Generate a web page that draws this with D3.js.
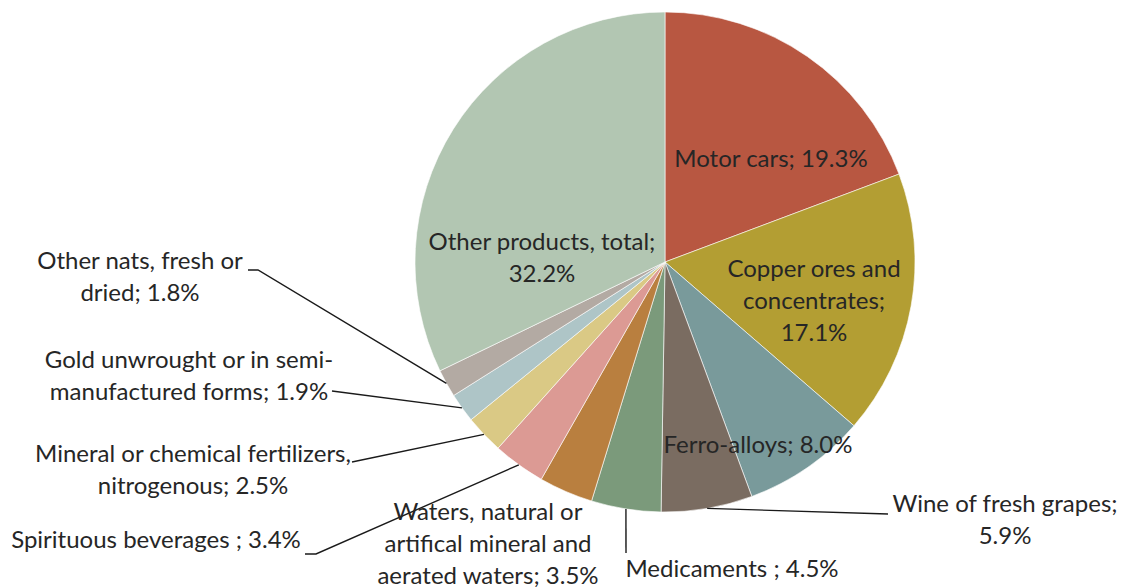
<!DOCTYPE html>
<html>
<head>
<meta charset="utf-8">
<script src="https://cdn.jsdelivr.net/npm/d3@7"></script>
<style>
  body { margin: 0; background: #fff; }
  text { font-family: Lato, "Open Sans", sans-serif; fill: #262626; }
</style>
</head>
<body>
<div id="chart"></div>
<script>
// data, clockwise from 12 o'clock
var products = ["Motor cars", "Copper ores and concentrates", "Ferro-alloys", "Wine of fresh grapes",
  "Medicaments", "Waters, natural or artifical mineral and aerated waters", "Spirituous beverages",
  "Mineral or chemical fertilizers, nitrogenous", "Gold unwrought or in semi-manufactured forms",
  "Other nats, fresh or dried", "Other products, total"];
var shares = [19.3, 17.1, 8.0, 5.9, 4.5, 3.5, 3.4, 2.5, 1.9, 1.8, 32.2];
var labelLines = [
  ["Motor cars; 19.3%"],
  ["Copper ores and", "concentrates;", "17.1%"],
  ["Ferro-alloys; 8.0%"],
  ["Wine of fresh grapes;", "5.9%"],
  ["Medicaments ; 4.5%"],
  ["Waters, natural or", "artifical mineral and", "aerated waters; 3.5%"],
  ["Spirituous beverages ; 3.4%"],
  ["Mineral or chemical fertilizers,", "nitrogenous; 2.5%"],
  ["Gold unwrought or in semi-", "manufactured forms; 1.9%"],
  ["Other nats, fresh or", "dried; 1.8%"],
  ["Other products, total;", "32.2%"]
];
var colors = ["#b85741", "#b39e33", "#799a9b", "#7a6c61", "#7b9a7b", "#b97f3f",
  "#dc9a94", "#dac985", "#aec5c7", "#b3aaa3", "#b2c6b2"];

var svgWidth = 1122;
var svgHeight = 587;
var cx = 665, cy = 262, radius = 250;
var lineH = 32;

// label layout: first baseline x/y
var labelPos = [
  [771, 167], [814, 277], [758, 453], [1005, 512], [732, 577], [488, 520],
  [156, 548], [193, 462], [189, 368], [140, 269], [542, 250]
];
// leader start points (label side), null = no leader
var leaderStart = [
  null, null, null, [[888, 514]], [[626, 553]], null,
  [[305, 554], [316, 554]], [[352, 462]], [[332, 391]], [[248, 270], [258, 270]], null
];

var svg = d3.select("#chart")
  .append("svg")
  .attr("width", svgWidth)
  .attr("height", svgHeight);

var g = svg.append("g")
  .attr("transform", `translate(${cx},${cy})`);

var pie = d3.pie().sort(null).value(d => d);
var arcs = pie(shares);

var arc = d3.arc().innerRadius(0).outerRadius(radius);
var edgeArc = d3.arc().innerRadius(radius).outerRadius(radius);

g.selectAll("path.slice")
  .data(arcs)
  .enter()
  .append("path")
  .attr("class", "slice")
  .attr("d", arc)
  .attr("fill", (d, i) => colors[i])
  .attr("stroke", "#ffffff")
  .attr("stroke-width", 0.6);

// leader lines
arcs.forEach((d, i) => {
  if (!leaderStart[i]) return;
  var end = edgeArc.centroid(d);
  var pts = leaderStart[i].map(p => [p[0] - cx, p[1] - cy]);
  pts.push(end);
  g.append("path")
    .attr("d", d3.line()(pts))
    .attr("fill", "none")
    .attr("stroke", "#1a1a1a")
    .attr("stroke-width", 1.4);
});

// labels
labelLines.forEach((lines, i) => {
  var t = svg.append("text")
    .attr("text-anchor", "middle")
    .attr("font-size", "24px");
  lines.forEach((s, j) => {
    t.append("tspan")
      .attr("x", labelPos[i][0])
      .attr("y", labelPos[i][1] + j * lineH)
      .text(s);
  });
});
</script>
</body>
</html>
